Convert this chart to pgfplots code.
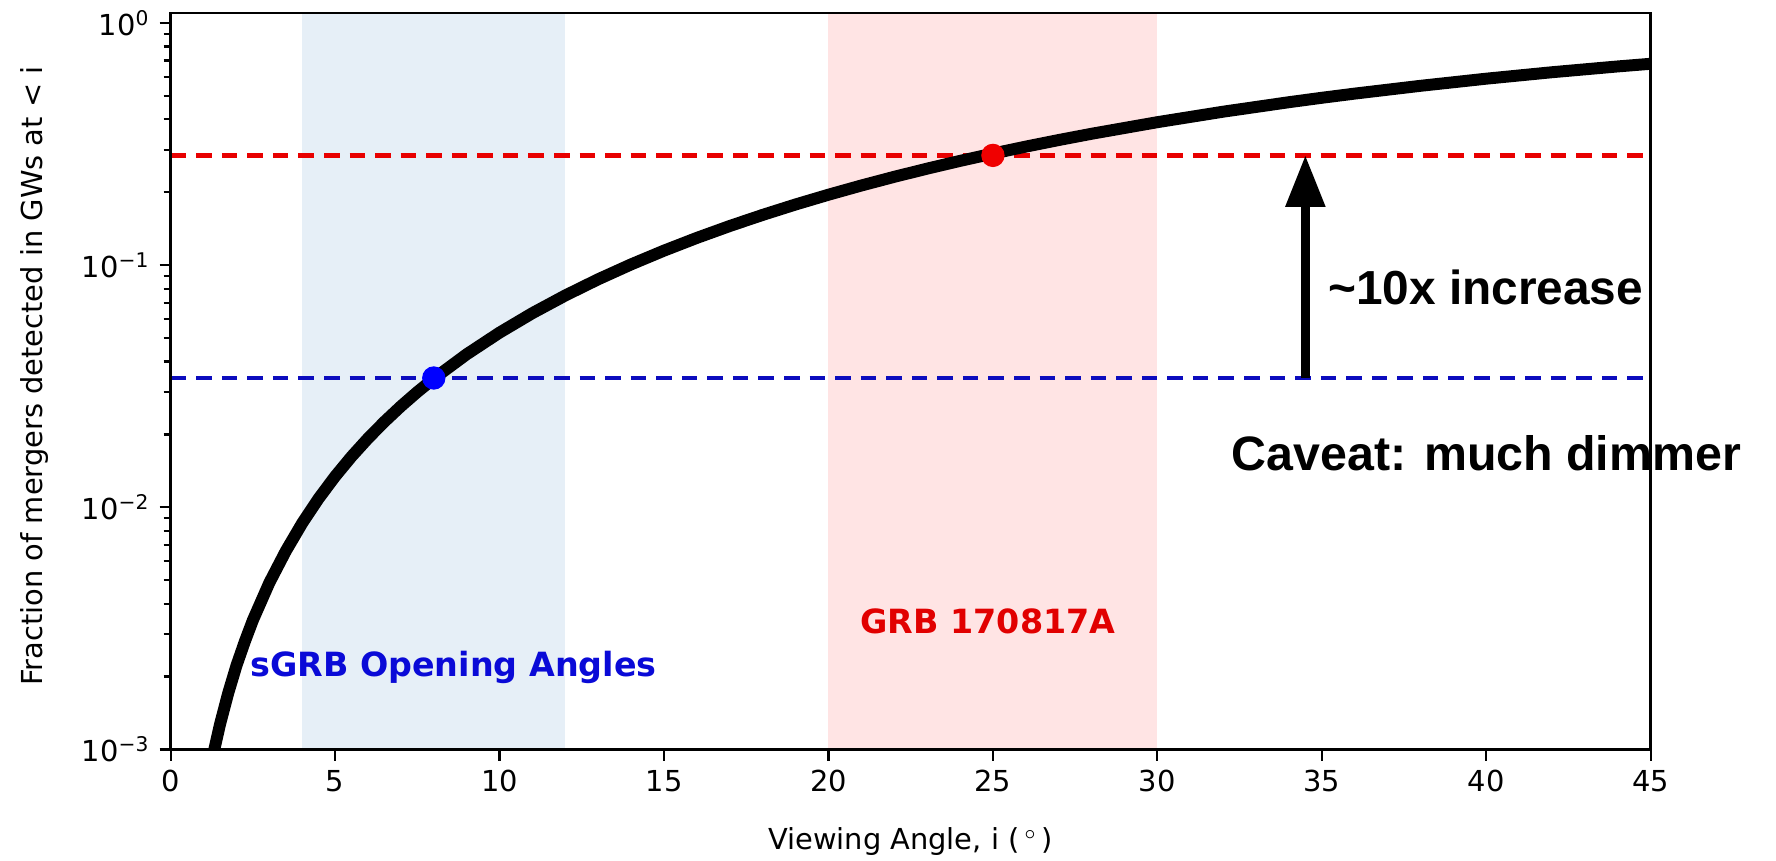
\documentclass[border=0pt]{standalone}
\usepackage{pgfplots}
\pgfplotsset{compat=1.18}
\usepackage{pgfplotstable}
\usepackage{fontspec}
\setmainfont{DejaVu Sans}
\newfontfamily\arialfont{Liberation Sans}
\usetikzlibrary{arrows.meta}

\definecolor{spanblue}{RGB}{230,239,247}
\definecolor{spanred}{RGB}{255,228,228}
\definecolor{lineblue}{RGB}{12,12,190}
\definecolor{linered}{RGB}{232,0,0}
\definecolor{dotblue}{RGB}{0,0,255}
\definecolor{dotred}{RGB}{240,0,0}
\definecolor{textblue}{RGB}{10,10,215}
\definecolor{textred}{RGB}{225,0,0}

% cumulative fraction of GW-detected mergers vs. viewing angle
\pgfplotstableread{
angle frac
1.00 0.00058
1.25 0.00090
1.50 0.00127
1.75 0.00171
2.00 0.00222
2.25 0.00278
2.50 0.00342
3.00 0.00488
3.50 0.006595
4.00 0.008605
4.50 0.010879
5.00 0.013416
5.50 0.016212
6.00 0.019264
6.50 0.022574
7.00 0.026136
7.50 0.029947
8.00 0.034006
9.00 0.042855
10.0 0.052654
11.0 0.063382
12.0 0.074985
13.0 0.087455
14.0 0.100740
15.0 0.114810
16.0 0.129622
17.0 0.145133
18.0 0.161299
19.0 0.178079
20.0 0.195425
21.0 0.213292
22.0 0.231626
23.0 0.250386
24.0 0.269523
25.0 0.288983
26.0 0.308723
27.0 0.328691
28.0 0.348843
30.0 0.389513
32.0 0.430330
34.0 0.470970
35.0 0.491177
36.0 0.511088
38.0 0.550370
40.0 0.589023
42.0 0.626333
44.0 0.661822
45.0 0.678766
}\fractable

\begin{document}
\begin{tikzpicture}
\begin{axis}[
  name=ax,
  scale only axis,
  width=532.8pt, height=265.1pt,
  xmin=0, xmax=45,
  ymode=log, ymin=1e-3, ymax=1.1,
  xtick={0,5,...,45},
  ytick={1e-3,1e-2,1e-1,1},
  yticklabels={10\textsuperscript{−3},10\textsuperscript{−2},10\textsuperscript{−1},10\textsuperscript{0}},
  minor ytick={0.002,0.003,0.004,0.005,0.006,0.007,0.008,0.009,
               0.02,0.03,0.04,0.05,0.06,0.07,0.08,0.09,
               0.2,0.3,0.4,0.5,0.6,0.7,0.8,0.9},
  tick align=outside,
  xtick pos=bottom, ytick pos=left,
  major tick length=4pt, minor tick length=2.5pt,
  every tick/.style={black, line width=0.8pt},
  axis line style={line width=0.9pt},
  tick label style={font=\fontsize{10.4}{12}\selectfont},
  label style={font=\fontsize{10.4}{12}\selectfont},
  /pgf/number format/assume math mode=true,
  xlabel={Viewing Angle, i (\,$^{\circ}$\,)},
  ylabel={Fraction of mergers detected in GWs at < i},
  xlabel style={at={(axis description cs:0.5,-0.1354)}, anchor=base},
  ylabel style={at={(axis description cs:-0.0863,0.507)}, anchor=base},
  clip mode=individual,
  axis on top,
]
% shaded angle ranges
\addplot[draw=none, fill=spanblue] coordinates {(4,1e-4) (12,1e-4) (12,10) (4,10)} -- cycle;
\addplot[draw=none, fill=spanred] coordinates {(20,1e-4) (30,1e-4) (30,10) (20,10)} -- cycle;

% reference levels
\addplot[lineblue, line width=1.7pt, dash pattern=on 5.6pt off 3.6pt] coordinates {(0,0.0342) (45,0.0342)};
\addplot[linered, line width=1.7pt, dash pattern=on 5.6pt off 3.6pt] coordinates {(0,0.284) (45,0.284)};

% cumulative fraction
\addplot[black, line width=4.3pt, line join=round] table[x=angle, y=frac] {\fractable};

% markers at the two angles
\addplot[only marks, mark=*, mark size=4pt, dotblue] coordinates {(8,0.0342)};
\addplot[only marks, mark=*, mark size=4pt, dotred] coordinates {(25,0.284)};

% annotations
\node[anchor=base west, text=textblue, font=\fontsize{12}{14}\selectfont\bfseries]
  at (axis cs:2.12,0.00201) {sGRB Opening Angles};
\node[anchor=base, text=textred, font=\fontsize{12}{14}\selectfont\bfseries]
  at (axis cs:24.85,0.00302) {GRB 170817A};
\draw[line width=3pt, -{Triangle[width=13.7pt, length=18.5pt]}]
  (axis cs:34.5,0.0342) -- (axis cs:34.5,0.284);
\node[anchor=base west, font=\arialfont\bfseries\fontsize{17.2}{20}\selectfont]
  at (axis cs:34.9,0.0686) {\textasciitilde 10x increase};
\node[anchor=base west, font=\arialfont\bfseries\fontsize{17.4}{20}\selectfont]
  at (axis cs:31.96,0.0142) {Caveat: much dimmer};
\end{axis}
\pgfresetboundingbox
\path[use as bounding box]
  ([shift={(-61.45pt,-39.85pt)}]ax.south west) rectangle ([shift={(45.11pt,4.68pt)}]ax.north east);
\end{tikzpicture}
\end{document}
